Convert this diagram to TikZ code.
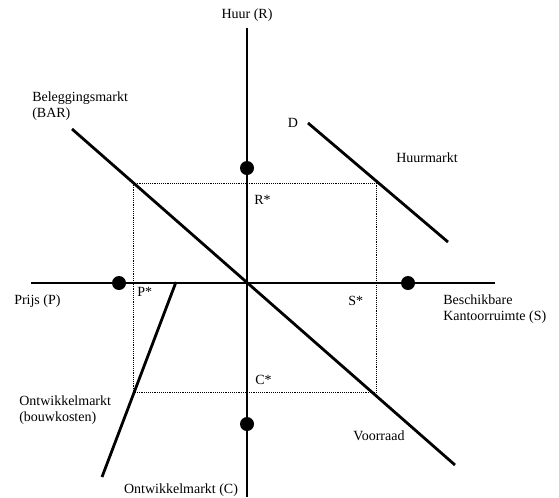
\documentclass[tikz,border=0pt]{standalone}
\usepackage{fontspec}
\setmainfont{Liberation Serif}
\usetikzlibrary{positioning}

\begin{document}
\begin{tikzpicture}[x=0.75pt,y=-0.75pt,font=\fontsize{10.5}{12.5}\selectfont,
  axis/.style={line width=1.2pt},
  market/.style={line width=2.1pt},
  guide/.style={densely dotted,line width=0.4pt},
  dot/.style={circle,fill,inner sep=0pt,minimum size=10.5pt},
  lbl/.style={inner sep=0pt,align=left}]
\useasboundingbox (0,0) rectangle (559,497);
% axes
\coordinate (o) at (247,283);
\coordinate (rtop) at (247,28);
\coordinate (cbot) at (247,497);
\coordinate (pleft) at (31,283);
\coordinate (sright) at (495,283);
\draw[axis] (rtop) -- (cbot);
\draw[axis] (pleft) -- (sright);
% equilibrium rectangle
\coordinate (ra) at (133,183);
\coordinate (sa) at (376,183);
\coordinate (sb) at (376,392);
\coordinate (pb) at (133,392);
\draw[guide] (ra) -- (sa) -- (sb) -- (pb) -- cycle;
% markets
\coordinate (bar1) at (72,129);
\coordinate (bar2) at (455,465);
\coordinate (d1) at (308,123);
\coordinate (d2) at (448,242);
\coordinate (ow1) at (176,282);
\coordinate (ow2) at (102,477);
\draw[market] (bar1) -- (bar2);
\draw[market] (d1) -- (d2);
\draw[market] (ow1) -- (ow2);
% dots
\node[dot] (rdot) at (247,168) {};
\node[dot] (pdot) at (119,283) {};
\node[dot] (sdot) at (408,283) {};
\node[dot] (cdot) at (247,424) {};
% labels
\node[lbl,above=5pt of rtop] (huur) {Huur (R)};
\node[lbl] (ontwc) at (181,490) {Ontwikkelmarkt (C)};
\node[lbl,anchor=west] (prijs) at (14,301) {Prijs (P)};
\node[lbl,anchor=west] (besch) at (443,309) {Beschikbare\\Kantoorruimte (S)};
\node[lbl,anchor=west] (beleg) at (32,106) {Beleggingsmarkt\\(BAR)};
\node[lbl,anchor=west] (bouw) at (19,410) {Ontwikkelmarkt\\(bouwkosten)};
\node[lbl] (huurm) at (427,158) {Huurmarkt};
\node[lbl] (dlbl) at (293,123) {D};
\node[lbl] (voor) at (379,436) {Voorraad};
\node[lbl,anchor=west] (rstar) at (254,200) {R*};
\node[lbl,anchor=west] (pstar) at (137,292) {P*};
\node[lbl,anchor=west] (sstar) at (348,301) {S*};
\node[lbl,anchor=west] (cstar) at (255,380) {C*};
\end{tikzpicture}
\end{document}
